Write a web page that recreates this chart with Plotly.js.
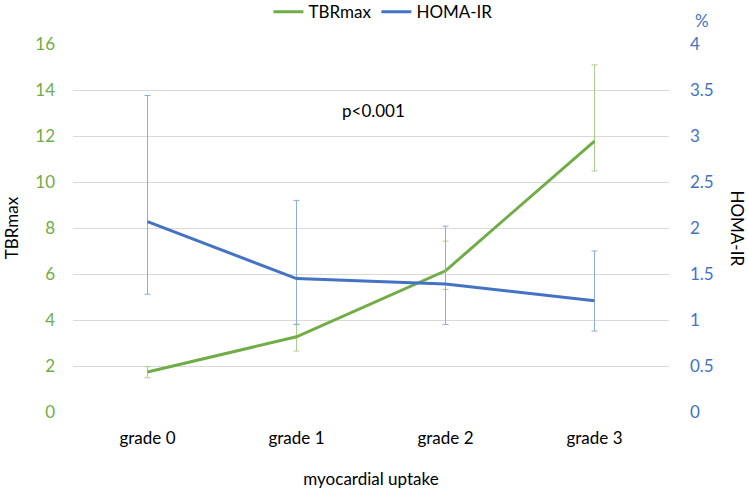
<!DOCTYPE html>
<html><head><meta charset="utf-8">
<script src="https://cdn.plot.ly/plotly-3.0.1.min.js"></script>
<style>html,body{margin:0;padding:0;background:#fff}#chart{width:748px;height:489px}</style>
</head><body><div id="chart"></div>
<script>
const categories = ["grade 0", "grade 1", "grade 2", "grade 3"];
const tbrMax = [1.74, 3.27, 6.14, 11.78];
const tbrErrPlus = [0.23, 0.55, 1.29, 3.31];
const tbrErrMinus = [0.25, 0.62, 0.81, 1.30];
const homaIR = [2.07, 1.45, 1.39, 1.21];
const homaErrPlus = [1.37, 0.85, 0.63, 0.54];
const homaErrMinus = [0.79, 0.50, 0.44, 0.33];
const leftTicks = [0, 2, 4, 6, 8, 10, 12, 14, 16];
const rightTicks = [0, 0.5, 1, 1.5, 2, 2.5, 3, 3.5, 4];

const green = "#70AD47", blue = "#4472C4";
const font = "Lato, Open Sans, Liberation Sans, sans-serif";

const traces = [
  {x: categories, y: tbrMax, name: "TBRmax", type: "scatter", mode: "lines",
   line: {color: green, width: 3},
   error_y: {type: "data", symmetric: false, array: tbrErrPlus, arrayminus: tbrErrMinus,
             color: "#A9D18E", thickness: 1, width: 3}},
  {x: categories, y: homaIR, name: "HOMA-IR", type: "scatter", mode: "lines", yaxis: "y2",
   line: {color: blue, width: 3},
   error_y: {type: "data", symmetric: false, array: homaErrPlus, arrayminus: homaErrMinus,
             color: "#8FAADC", thickness: 1, width: 3}}
];

const layout = {
  width: 748, height: 489,
  margin: {l: 73, r: 79, t: 44, b: 77, autoexpand: false},
  paper_bgcolor: "#fff", plot_bgcolor: "#fff",
  font: {family: font, size: 17, color: "#000"},
  showlegend: true,
  legend: {orientation: "h", x: 0.52, xanchor: "center", yref: "container", y: 0.975, yanchor: "middle",
           font: {size: 17, color: "#000"}, itemwidth: 30, tracegroupgap: 0},
  xaxis: {type: "category", range: [-0.5, 3.5], showgrid: false, zeroline: false, showline: false,
          tickfont: {size: 17, color: "#000"}, ticks: "", automargin: false, ticklabelstandoff: 14,
          title: {text: "myocardial uptake", font: {size: 17, color: "#000"}, standoff: 36}},
  yaxis: {range: [0, 16], tickvals: leftTicks, ticktext: leftTicks.map(String), automargin: false,
          showgrid: true, gridcolor: "#D9D9D9", gridwidth: 1, zeroline: false, showline: false,
          tickfont: {size: 17, color: green}, ticks: "", ticklabelstandoff: 17,
          title: {text: "TBRmax", font: {size: 17, color: "#000"}, standoff: 12}},
  yaxis2: {range: [0, 4], tickvals: rightTicks, ticktext: rightTicks.map(String), automargin: false,
           overlaying: "y", side: "right", showgrid: false, zeroline: false, showline: false,
           tickfont: {size: 17, color: blue}, ticks: "", ticklabelstandoff: 20},
  annotations: [
    {xref: "paper", yref: "paper", x: 1.115, y: 0.5, text: "HOMA-IR", showarrow: false,
     textangle: 90, font: {size: 17, color: "#000"}, xanchor: "center", yanchor: "middle"},
    {xref: "paper", yref: "paper", x: 1.055, y: 1.065, text: "%", showarrow: false,
     font: {size: 17, color: blue}, xanchor: "center", yanchor: "middle"},
    {xref: "paper", yref: "y", x: 0.505, y: 13.1, text: "p<0.001", showarrow: false,
     font: {size: 17, color: "#000"}, xanchor: "center", yanchor: "middle"}
  ]
};
Plotly.newPlot("chart", traces, layout, {displayModeBar: false, staticPlot: true});
</script></body></html>
